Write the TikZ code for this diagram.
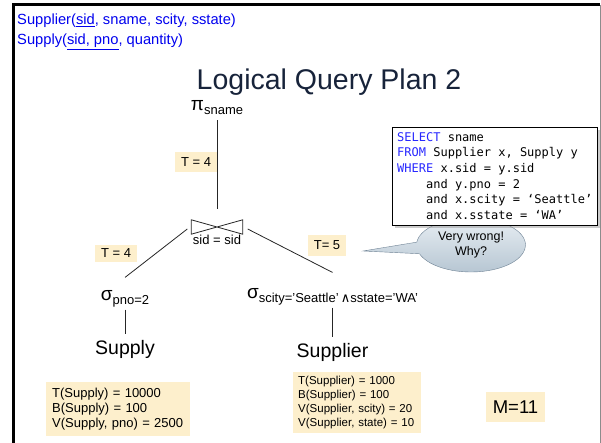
\documentclass[tikz,border=0pt]{standalone}
\usepackage{fontspec}
\setmainfont{Liberation Sans}
\setmonofont{DejaVu Sans Mono}
\newfontfamily\symfont{DejaVu Sans}
\usetikzlibrary{positioning,shapes.callouts,shadows}
\definecolor{hdrblue}{RGB}{0,0,238}
\definecolor{titlec}{RGB}{23,35,58}
\definecolor{costc}{RGB}{253,239,204}
\definecolor{kwblue}{RGB}{40,40,255}
\definecolor{calltop}{RGB}{232,238,243}
\definecolor{callbot}{RGB}{180,196,209}
\definecolor{callline}{RGB}{110,130,148}
\newcommand{\fsz}[2]{\fontsize{#1}{#2}\selectfont}
\newcommand{\opsub}[2]{{\fsz{19}{22}#1}\raisebox{-4pt}{\fsz{13}{15}#2}}
\newcommand{\kw}[1]{\textcolor{kwblue}{#1}}
\newcommand{\ind}{\phantom{xxxx}}
\tikzset{
  hdr/.style={anchor=west, inner sep=0pt, text=hdrblue, font=\fsz{14.7}{17}},
  rel/.style={inner sep=0pt, inner ysep=6pt, font=\fsz{19.5}{22}},
  op/.style={inner sep=2pt},
  cost/.style={fill=costc, inner xsep=6pt, minimum height=20pt, font=\fsz{13}{15}},
  stats/.style={fill=costc, anchor=north west, align=left},
  seg/.style={line width=0.8pt, draw=black!85}
}

\begin{document}
\begin{tikzpicture}[x=1pt,y=-1pt]
\useasboundingbox (0,0) rectangle (601,443);
\draw[line width=3pt] (13,443) -- (13,5) -- (600,5);
\draw[black!45, line width=1pt] (600,5) -- (600,443);

\node[hdr] (sch1) at (17,21) {Supplier(\underline{sid}, sname, scity, sstate)};
\node[hdr] (sch2) at (17,42) {Supply(\underline{sid, pno}, quantity)};
\node[anchor=base, inner sep=0pt, text=titlec, font=\fsz{28.5}{34}] (title) at (329,90) {Logical Query Plan 2};

\node[op] (proj) at (217,108) {\opsub{π}{sname}};
\node[minimum width=51pt, minimum height=14pt, inner sep=0pt] (join) at (217,227) {};
\draw[seg] (join.north west) -- (join.south east) -- (join.north east) -- (join.south west) -- cycle;
\node[below=1pt of join, inner sep=0pt, font=\fsz{13}{15}] (cond) {sid = sid};
\node[op] (selL) at (125,299) {\opsub{σ}{pno=2}};
\node[op] (selR) at (332.5,297) {\opsub{σ}{scity='Seattle'\,{\symfont ∧}sstate='WA'}};
\node[rel] (supply) at (125,349) {Supply};
\node[rel] (supplier) at (332.5,352) {Supplier};

\draw[seg, shorten <=3pt, shorten >=11pt] (proj) -- (join);
\draw[seg] ([xshift=-4pt,yshift=-2pt]join.west) -- ([yshift=11pt]selL.north);
\draw[seg] ([xshift=5pt,yshift=-2pt]join.east) -- ([yshift=14pt]selR.north);
\draw[seg] (selL) -- (supply);
\draw[seg] (selR) -- (supplier);

\node[cost] (t1) at (196,162) {T = 4};
\node[cost, minimum height=17pt] (t2) at (116,253) {T = 4};
\node[cost] (t3) at (327,245.5) {T= 5};

\node[ellipse callout, draw=callline, top color=calltop, bottom color=callbot,
      minimum width=109pt, minimum height=54pt, inner sep=0pt, align=center,
      font=\fsz{12.5}{15}, callout absolute pointer={(363,251)}, callout pointer arc=25]
  (bubble) at (471,245) {Very wrong!\\Why?};

\node[draw, fill=white, anchor=north west, align=left, inner xsep=5pt, inner ysep=5pt,
      font=\ttfamily\fsz{12}{15.7},
      drop shadow={shadow xshift=3pt, shadow yshift=-3pt, fill=black!40}] (sql) at (392,127)
  {\kw{SELECT} sname\\
   \kw{FROM} Supplier x, Supply y\\
   \kw{WHERE} x.sid = y.sid\\
   \ind and y.pno = 2\\
   \ind and x.scity = ‘Seattle’\\
   \ind and x.sstate = ‘WA’};

\node[stats, text width=132pt, inner xsep=6pt, inner ysep=6pt, font=\fsz{13}{15}] (stL) at (46,382)
  {T(Supply) = 10000\\B(Supply) = 100\\V(Supply, pno) = 2500};
\node[stats, text width=118pt, inner xsep=5pt, inner ysep=4pt, font=\fsz{11.5}{14}] (stR) at (293,372)
  {T(Supplier) = 1000\\B(Supplier) = 100\\V(Supplier, scity) = 20\\V(Supplier, state) = 10};
\node[cost, inner xsep=7pt, minimum height=30pt, font=\fsz{18.5}{22}] (mem) at (515.5,407) {M=11};
\end{tikzpicture}
\end{document}
